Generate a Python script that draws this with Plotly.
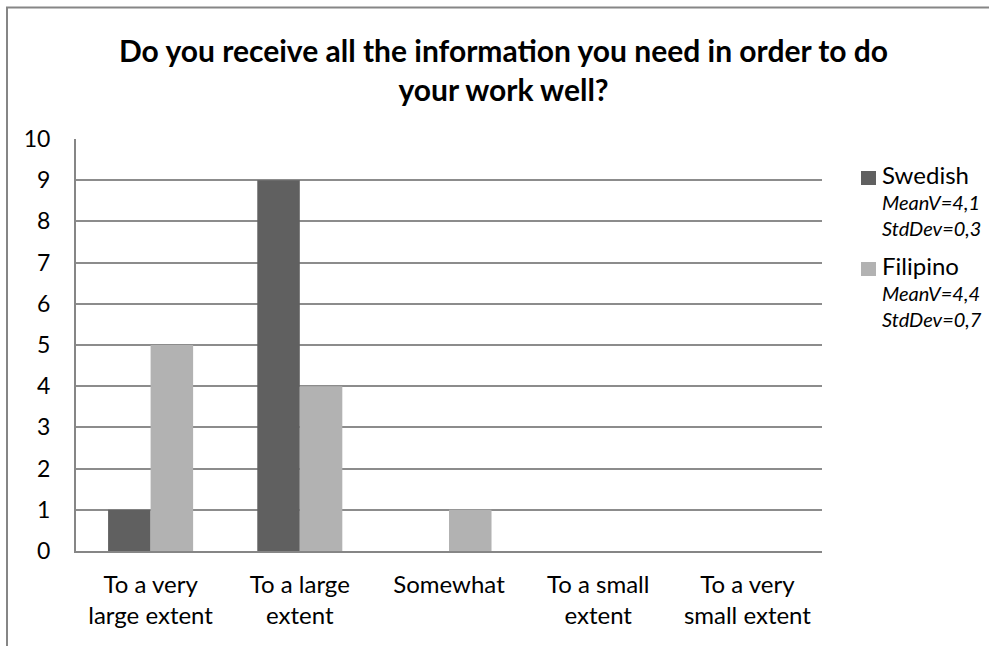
import plotly.graph_objects as go

# Survey answers per nationality
categories = ["To a very<br>large extent", "To a large<br>extent", "Somewhat",
              "To a small<br>extent", "To a very<br>small extent"]
swedish = [1, 9, 0, 0, 0]
filipino = [5, 4, 1, 0, 0]
series_names = ["Swedish", "Filipino"]
series_stats = [["MeanV=4,1", "StdDev=0,3"], ["MeanV=4,4", "StdDev=0,7"]]
series_colors = ["#606060", "#b2b2b2"]
title_text = "<b>Do you receive all the information you need in order to do<br>your work well?</b>"

FONT = "Lato"

W, H = 989, 646
L, R, T, B = 76, 822, 139, 551  # plot area in pixels
pw, ph = R - L, B - T


def px(x):
    return (x - L) / pw


def py(y):
    return (B - y) / ph


fig = go.Figure()
for name, vals, col in zip(series_names, [swedish, filipino], series_colors):
    fig.add_trace(go.Bar(
        x=list(range(len(categories))), y=vals, name=name,
        marker=dict(color=col, line=dict(color=col, width=0)),
        showlegend=False,
    ))

shapes = [
    # outer chart border
    dict(type="rect", xref="paper", yref="paper",
         x0=px(7), y0=py(700), x1=px(1010), y1=py(7.5),
         line=dict(color="#868686", width=2), fillcolor="rgba(0,0,0,0)", layer="below"),
]
annotations = [
    dict(text=title_text, xref="paper", yref="paper", x=px(503), y=py(69),
         xanchor="center", yanchor="middle", showarrow=False,
         font=dict(family=FONT, size=30, color="black"), align="center"),
]

# legend drawn as one text block per series with a square swatch
leg_tops = [171, 262]
for name, stats, col, top in zip(series_names, series_stats, series_colors, leg_tops):
    shapes.append(dict(type="rect", xref="paper", yref="paper",
                       x0=px(861), x1=px(876), y0=py(top + 14), y1=py(top),
                       fillcolor=col, line=dict(width=0)))
    block = ("<span style='font-size:24px'>" + name + "</span><br>"
             + "<br>".join("<i>" + s + "</i>" for s in stats))
    annotations.append(dict(text=block, xref="paper", yref="paper", x=px(880), y=py(top - 13),
                            xanchor="left", yanchor="top", showarrow=False, align="left",
                            font=dict(family=FONT, size=20, color="black")))

fig.update_layout(
    width=W, height=H,
    margin=dict(l=L, r=W - R, t=T, b=H - B, pad=0),
    paper_bgcolor="white", plot_bgcolor="white",
    barmode="group", bargap=0.43, bargroupgap=0,
    shapes=shapes, annotations=annotations,
    font=dict(family=FONT, size=23, color="black"),
)
fig.update_xaxes(
    range=[-0.5, len(categories) - 0.5],
    tickvals=list(range(len(categories))), ticktext=categories,
    showline=True, linecolor="#868686", linewidth=2,
    showgrid=False, ticks="", ticklabelstandoff=11,
    tickfont=dict(family=FONT, size=24, color="black"),
)
fig.update_yaxes(
    range=[0, 10], dtick=1, tick0=0,
    showline=True, linecolor="#868686", linewidth=2,
    showgrid=True, gridcolor="#8c8c8c", gridwidth=2,
    zeroline=False, ticks="", ticklabelstandoff=19,
    tickfont=dict(family=FONT, size=23, color="black"),
)

fig.write_html("out.html")
